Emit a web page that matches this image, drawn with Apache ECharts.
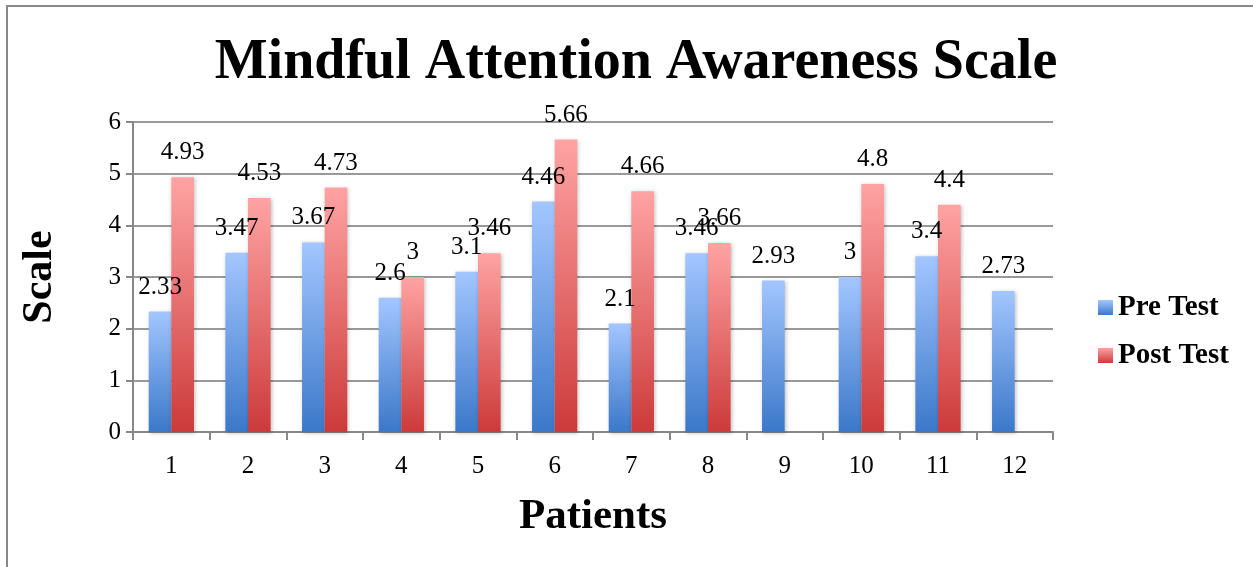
<!DOCTYPE html>
<html>
<head>
<meta charset="utf-8">
<script src="https://cdn.jsdelivr.net/npm/echarts@6/dist/echarts.min.js"></script>
<style>html,body{margin:0;padding:0;background:#fff}#c{width:1253px;height:567px}</style>
</head>
<body>
<div id="c"></div>
<script>
const categories = ['1','2','3','4','5','6','7','8','9','10','11','12'];
const preTest = [2.33, 3.47, 3.67, 2.6, 3.1, 4.46, 2.1, 3.46, 2.93, 3, 3.4, 2.73];
const postTest = [4.93, 4.53, 4.73, 3, 3.46, 5.66, 4.66, 3.66, null, 4.8, 4.4, null];
const seriesNames = ['Pre Test', 'Post Test'];

const FONT = 'Liberation Serif';
function grad(top, bottom) {
  return new echarts.graphic.LinearGradient(0, 0, 0, 1, [
    {offset: 0, color: top}, {offset: 1, color: bottom}
  ]);
}
const labelStyle = {
  show: true, position: 'top', distance: 12,
  fontFamily: FONT, fontSize: 25, color: '#000'
};
const chart = echarts.init(document.getElementById('c'), null, {renderer: 'canvas'});
chart.setOption({
  animation: false,
  backgroundColor: '#fff',
  graphic: [{
    type: 'rect', shape: {x: 7, y: 6, width: 1300, height: 600},
    style: {fill: 'none', stroke: '#888', lineWidth: 2}, z: -1
  }],
  title: {
    text: 'Mindful Attention Awareness Scale',
    left: 631, top: 31, textAlign: 'center',
    textStyle: {fontFamily: FONT, fontWeight: 'bold', fontSize: 56, color: '#000'}
  },
  legend: {
    orient: 'vertical', left: 1093, top: 288, itemGap: 19,
    itemWidth: 15, itemHeight: 15,
    textStyle: {fontFamily: FONT, fontWeight: 'bold', fontSize: 29, color: '#000'},
    data: [
      {name: seriesNames[0], icon: 'rect', itemStyle: {color: grad('#a3c6ff', '#3b78c9')}},
      {name: seriesNames[1], icon: 'rect', itemStyle: {color: grad('#ffa3a3', '#cc3a3a')}}
    ]
  },
  grid: {left: 133, right: 200, top: 122, bottom: 135, containLabel: false},
  xAxis: {
    type: 'category', data: categories,
    name: 'Patients', nameLocation: 'middle', nameGap: 63,
    nameTextStyle: {fontFamily: FONT, fontWeight: 'bold', fontSize: 43, color: '#000'},
    axisLine: {lineStyle: {color: '#888', width: 2}},
    axisTick: {show: true, length: 8, lineStyle: {color: '#888', width: 2}},
    axisLabel: {fontFamily: FONT, fontSize: 25, color: '#000', margin: 22}
  },
  yAxis: {
    type: 'value', min: 0, max: 6, interval: 1,
    name: 'Scale', nameLocation: 'middle', nameGap: 72, nameRotate: 90,
    nameTextStyle: {fontFamily: FONT, fontWeight: 'bold', fontSize: 42, color: '#000'},
    axisLine: {show: true, lineStyle: {color: '#888', width: 2}},
    axisTick: {show: true, length: 7, lineStyle: {color: '#888', width: 2}},
    axisLabel: {fontFamily: FONT, fontSize: 25, color: '#000', margin: 12},
    splitLine: {lineStyle: {color: '#999', width: 2}}
  },
  series: [
    {
      name: seriesNames[0], type: 'bar', data: preTest,
      barGap: '0%', barCategoryGap: '41%',
      itemStyle: {color: grad('#a3c6ff', '#3b78c9'), shadowBlur: 4, shadowColor: 'rgba(0,0,0,0.25)', shadowOffsetX: 1, shadowOffsetY: 1},
      label: labelStyle
    },
    {
      name: seriesNames[1], type: 'bar', data: postTest,
      itemStyle: {color: grad('#ffa3a3', '#cc3a3a'), shadowBlur: 4, shadowColor: 'rgba(0,0,0,0.25)', shadowOffsetX: 1, shadowOffsetY: 1},
      label: labelStyle
    }
  ]
});
</script>
</body>
</html>
